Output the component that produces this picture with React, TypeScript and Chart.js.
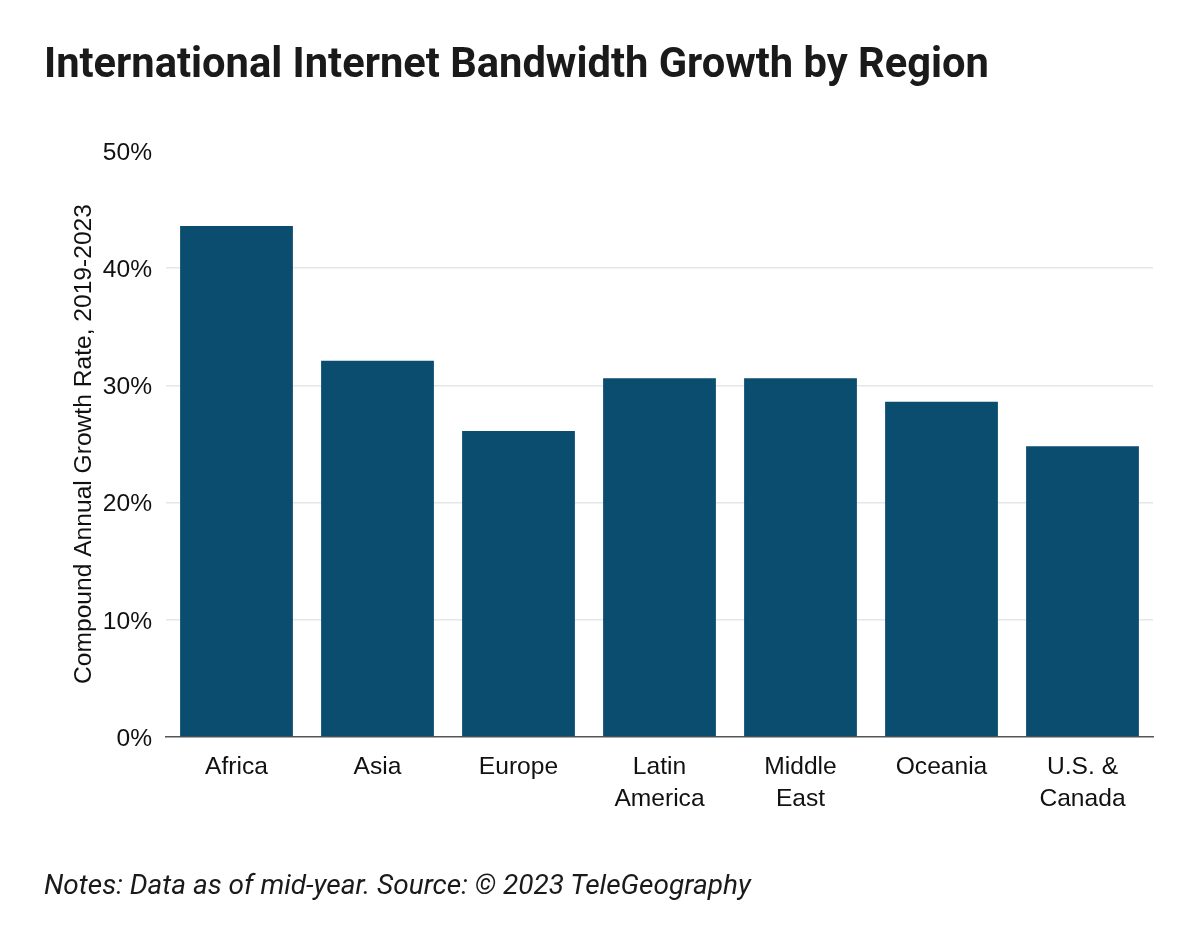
import React, { useEffect, useRef } from "react";
import { Chart, registerables } from "chart.js";

Chart.register(...registerables);

const categories: (string | string[])[] = [
  "Africa",
  "Asia",
  "Europe",
  ["Latin", "America"],
  ["Middle", "East"],
  "Oceania",
  ["U.S. &", "Canada"],
];
const growthRates = [43.6, 32.1, 26.1, 30.6, 30.6, 28.6, 24.8];
const yTickMax = 50;
const yTickStep = 10;

const titleText = "International Internet Bandwidth Growth by Region";
const yAxisTitle = "Compound Annual Growth Rate, 2019-2023";
const notesText = "Notes: Data as of mid-year. Source: \u00A9 2023 TeleGeography";

export default function App() {
  const canvasRef = useRef<HTMLCanvasElement | null>(null);

  useEffect(() => {
    if (!canvasRef.current) return;
    const axisFont = { family: "'Liberation Sans', Arial, sans-serif", size: 24.6 };
    const chart = new Chart(canvasRef.current, {
      type: "bar",
      data: {
        labels: categories,
        datasets: [
          {
            data: growthRates,
            backgroundColor: "#0b4d6f",
            borderWidth: 0,
            barPercentage: 0.8,
            categoryPercentage: 1,
          },
        ],
      },
      options: {
        animation: false,
        responsive: false,
        maintainAspectRatio: false,
        layout: { padding: { left: 65, right: 47, top: 151, bottom: 0 } },
        plugins: { legend: { display: false }, tooltip: { enabled: false }, title: { display: false } },
        scales: {
          x: {
            grid: { display: false, drawTicks: false },
            border: { display: true, color: "#555555", width: 1.5 },
            ticks: {
              color: "#111111",
              font: { ...axisFont, lineHeight: 1.27 },
              padding: 15,
              maxRotation: 0,
              autoSkip: false,
            },
            afterFit: (scale: any) => {
              scale.height = 200;
            },
          },
          y: {
            min: 0,
            max: yTickMax,
            border: { display: false },
            grid: {
              drawTicks: false,
              color: (ctx: any) =>
                ctx.tick && (ctx.tick.value === yTickMax || ctx.tick.value === 0) ? "rgba(0,0,0,0)" : "#e6e6e6",
              lineWidth: 1.5,
            },
            ticks: {
              stepSize: yTickStep,
              color: "#111111",
              font: axisFont,
              padding: 14,
              labelOffset: 2,
              callback: (v: any) => `${v}%`,
            },
            title: {
              display: true,
              text: yAxisTitle,
              color: "#111111",
              font: axisFont,
              padding: { top: 4, bottom: 0 },
            },
            afterFit: (scale: any) => {
              scale.width = 101;
            },
          },
        },
      },
    });
    return () => chart.destroy();
  }, []);

  return (
    <div style={{ position: "absolute", left: 0, top: 0, width: 1200, height: 937, background: "#ffffff", overflow: "hidden" }}>
      <canvas ref={canvasRef} width={1200} height={937} style={{ position: "absolute", left: 0, top: 0, width: 1200, height: 937 }} />
      <div
        style={{
          position: "absolute",
          left: 44,
          top: 42,
          fontFamily: "Roboto, sans-serif",
          fontWeight: 700,
          fontSize: 41.65,
          lineHeight: "41.65px",
          color: "#1a1a1a",
          whiteSpace: "nowrap",
        }}
      >
        {titleText}
      </div>
      <div
        style={{
          position: "absolute",
          left: 44,
          top: 871.4,
          fontFamily: "Roboto, sans-serif",
          fontStyle: "italic",
          fontSize: 28,
          lineHeight: "28px",
          color: "#1a1a1a",
          whiteSpace: "nowrap",
        }}
      >
        {notesText}
      </div>
    </div>
  );
}
